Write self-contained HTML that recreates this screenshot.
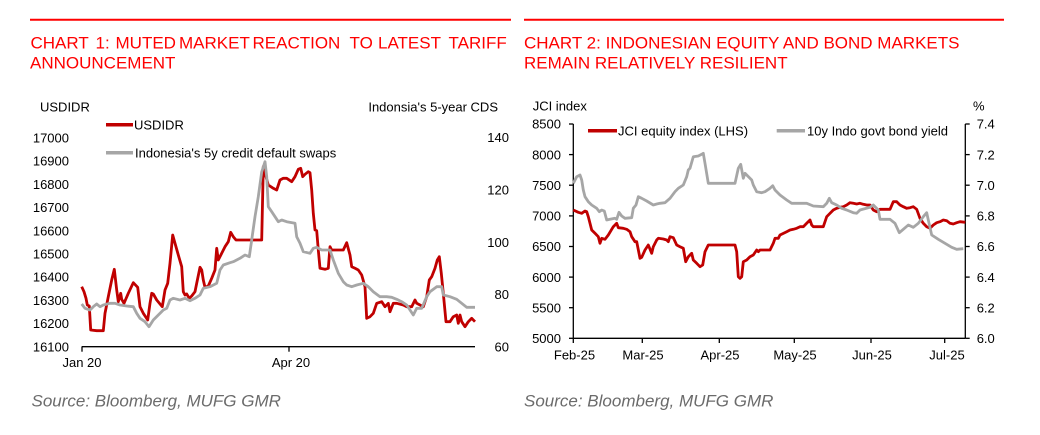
<!DOCTYPE html>
<html>
<head>
<meta charset="utf-8">
<style>
html,body{margin:0;padding:0;background:#fff;}
svg{display:block;}
text{font-family:"Liberation Sans",Arial,sans-serif;}
</style>
</head>
<body>
<svg width="1040" height="435" viewBox="0 0 1040 435" xmlns="http://www.w3.org/2000/svg">
<rect width="1040" height="435" fill="#fff"/>

<!-- ===== Chart 1 ===== -->
<line x1="30" y1="19.7" x2="511" y2="19.7" stroke="#ff0000" stroke-width="2"/>
<text y="48.3" font-size="17" fill="#ff0000"><tspan x="30.5">CHART</tspan><tspan x="95.5">1:</tspan><tspan x="115.5">MUTED</tspan><tspan x="179">MARKET</tspan><tspan x="252.5">REACTION</tspan><tspan x="349.5">TO</tspan><tspan x="378">LATEST</tspan><tspan x="448.5">TARIFF</tspan></text>
<text x="30" y="68.3" font-size="17" fill="#ff0000">ANNOUNCEMENT</text>

<text x="40" y="111.5" font-size="13" fill="#000">USDIDR</text>
<text x="498" y="111.5" font-size="13" fill="#000" text-anchor="end">Indonsia's 5-year CDS</text>

<g font-size="13" fill="#000" text-anchor="end">
<text x="69" y="142.5">17000</text>
<text x="69" y="165.7">16900</text>
<text x="69" y="188.9">16800</text>
<text x="69" y="212.1">16700</text>
<text x="69" y="235.3">16600</text>
<text x="69" y="258.5">16500</text>
<text x="69" y="281.7">16400</text>
<text x="69" y="304.9">16300</text>
<text x="69" y="328.1">16200</text>
<text x="69" y="351.3">16100</text>
</g>
<g font-size="13" fill="#000" text-anchor="end">
<text x="509" y="142">140</text>
<text x="509" y="194.5">120</text>
<text x="509" y="246.8">100</text>
<text x="509" y="299">80</text>
<text x="509" y="351.3">60</text>
</g>

<line x1="81.7" y1="346.7" x2="475" y2="346.7" stroke="#000" stroke-width="1.3"/>
<line x1="82" y1="346.7" x2="82" y2="351.7" stroke="#000" stroke-width="1.3"/>
<line x1="289" y1="346.7" x2="289" y2="351.7" stroke="#000" stroke-width="1.3"/>
<text x="82" y="367" font-size="13" fill="#000" text-anchor="middle">Jan 20</text>
<text x="291" y="367" font-size="13" fill="#000" text-anchor="middle">Apr 20</text>

<polyline fill="none" stroke="#c00000" stroke-width="2.8" stroke-linejoin="round" points="81.7,286.7 84,291.7 86,298.3 87.3,305 89.3,306 90.7,330 96.7,330.7 103.3,330.7 105,313.3 108.3,296.7 111.7,280 114.3,269.3 116.7,290 118.3,301.7 120.7,293.3 121.7,299.3 124,303.3 128.3,293.3 133.3,282.7 137.7,287.3 140,306.7 143.3,313.3 147.7,320 150,303.3 151.7,293.3 153.3,294 156.7,300 160,304 162.3,306.7 165,290 167.7,283.3 170,263.3 172.7,235 175,243.3 178.3,255 181.7,266.7 183.3,291.7 185,295 186.7,294 189.3,298.3 191.7,296 195,291.7 196.7,283.3 200,267.3 201.7,270 203.3,280 205,287.3 208.3,286 211.7,278.3 215,270 216.7,248.3 218.3,260 221.7,253.3 225,246.7 228.3,241.7 230.7,232.3 233.3,236.7 236,240 261.7,240 263.3,166.7 265,173.3 268.3,185 273.3,188.3 276.7,190 280,180 283.3,178.3 286.7,178.3 291.7,181.7 295,176.7 298.3,169.3 300.7,168.3 302.7,176.7 305,174.3 308.3,171.7 310,172.7 311.7,190 313.3,213.3 315,230 316.7,230.7 318.3,250 320,268.3 325,269.3 328.3,268.3 330,246.7 331.7,250 343.3,250 346.7,242.7 350,255 351.7,266.7 355,268.3 358.3,270 361.7,275 365,286.7 366.7,318.3 370,316.7 373.3,313.3 376.7,303.3 381.7,301.7 385,306.7 388.3,303.3 390,311.7 393.3,303.3 396.7,303.3 403.3,305 406.7,306.7 411.7,306.7 415,300 416.7,303.3 420,305 423.3,306.7 426.7,296.7 429.3,280 431.7,276.7 435,268.3 437.3,260 439.3,256.7 441.3,273.3 443.3,293.3 446,321.7 450,321.7 453.3,316.7 456.7,315 458.3,323.3 460,315 461.7,321.7 465,326.7 468.3,321.7 471.7,318.3 475,321.7"/>
<polyline fill="none" stroke="#a6a6a6" stroke-width="2.8" stroke-linejoin="round" points="81.7,304 85,308.3 90,310 93.3,306.7 96.7,304 100,306.7 103.3,305 110,303.3 115,303.3 120,305 126.7,306 133.3,306.7 136.7,313.3 140,318.3 145,321.7 149,326.7 153.3,320 158.3,315 163.3,310 166.7,308.3 170,300 173.3,298.3 180,300 185,298.3 190,300.7 195,298.3 200,295 203.3,288.3 210,286.7 216.7,283.3 220,270 223.3,265 230,262.7 233.3,261.7 240,258.3 245,255 249.3,256.7 251.7,240 255,216.7 258.3,196.7 261.7,172 265,161.7 266.7,176.7 268.3,206.7 271.7,211.7 275,216.7 278.3,221.7 281.7,220 286.7,221.7 295,223.3 296.7,236.7 300,243.3 303.3,251.7 310,253.3 313.3,248.3 316.7,247.3 321.7,250 330,250 333.3,260 338.3,273.3 343.3,281.7 346.7,285 351.7,286.7 356.7,285 363.3,283.3 368.3,286.7 373.3,291.7 380,296.7 386.7,296.7 391.7,297.3 396.7,299.3 401.7,301.7 406.7,305 413.3,315 416.7,308.3 421.7,308.3 426.7,296.7 430,291.7 436.7,286.7 441.7,286.7 443.3,295 450,296.7 456.7,299.3 461.7,303.3 466.7,307.3 475,307.3"/>

<!-- legend chart 1 -->
<line x1="106" y1="124.7" x2="133" y2="124.7" stroke="#c00000" stroke-width="3.5"/>
<text x="134" y="129.3" font-size="13" fill="#000">USDIDR</text>
<line x1="106" y1="152.7" x2="133" y2="152.7" stroke="#a6a6a6" stroke-width="3.5"/>
<text x="135" y="157.3" font-size="13" fill="#000">Indonesia's 5y credit default swaps</text>

<text x="31.5" y="406.7" font-size="17" font-style="italic" fill="#6b6b6b">Source: Bloomberg, MUFG GMR</text>

<!-- ===== Chart 2 ===== -->
<line x1="524" y1="19.7" x2="1004" y2="19.7" stroke="#ff0000" stroke-width="2"/>
<text x="524" y="48.3" font-size="17" fill="#ff0000">CHART 2: INDONESIAN EQUITY AND BOND MARKETS</text>
<text x="524" y="68.3" font-size="17" fill="#ff0000">REMAIN RELATIVELY RESILIENT</text>

<text x="532.7" y="110.5" font-size="13" fill="#000">JCI index</text>
<text x="973" y="110.5" font-size="13" fill="#000">%</text>

<!-- axes -->
<g stroke="#000" stroke-width="1.3">
<line x1="573.3" y1="124" x2="573.3" y2="338.3"/>
<line x1="965.3" y1="124" x2="965.3" y2="338.3"/>
<line x1="573.3" y1="338.3" x2="965.3" y2="338.3"/>
<line x1="569" y1="124" x2="573.3" y2="124"/>
<line x1="569" y1="154.6" x2="573.3" y2="154.6"/>
<line x1="569" y1="185.2" x2="573.3" y2="185.2"/>
<line x1="569" y1="215.9" x2="573.3" y2="215.9"/>
<line x1="569" y1="246.5" x2="573.3" y2="246.5"/>
<line x1="569" y1="277.1" x2="573.3" y2="277.1"/>
<line x1="569" y1="307.7" x2="573.3" y2="307.7"/>
<line x1="569" y1="338.3" x2="573.3" y2="338.3"/>
<line x1="965.3" y1="124" x2="969.7" y2="124"/>
<line x1="965.3" y1="154.6" x2="969.7" y2="154.6"/>
<line x1="965.3" y1="185.2" x2="969.7" y2="185.2"/>
<line x1="965.3" y1="215.9" x2="969.7" y2="215.9"/>
<line x1="965.3" y1="246.5" x2="969.7" y2="246.5"/>
<line x1="965.3" y1="277.1" x2="969.7" y2="277.1"/>
<line x1="965.3" y1="307.7" x2="969.7" y2="307.7"/>
<line x1="965.3" y1="338.3" x2="969.7" y2="338.3"/>
<line x1="573.3" y1="338.3" x2="573.3" y2="343"/>
<line x1="642.3" y1="338.3" x2="642.3" y2="343"/>
<line x1="719.3" y1="338.3" x2="719.3" y2="343"/>
<line x1="794.3" y1="338.3" x2="794.3" y2="343"/>
<line x1="871" y1="338.3" x2="871" y2="343"/>
<line x1="944.7" y1="338.3" x2="944.7" y2="343"/>
</g>
<g font-size="13" fill="#000" text-anchor="end">
<text x="561" y="128.7">8500</text>
<text x="561" y="159.3">8000</text>
<text x="561" y="189.9">7500</text>
<text x="561" y="220.6">7000</text>
<text x="561" y="251.2">6500</text>
<text x="561" y="281.8">6000</text>
<text x="561" y="312.4">5500</text>
<text x="561" y="343">5000</text>
</g>
<g font-size="13" fill="#000">
<text x="976.7" y="128.7">7.4</text>
<text x="976.7" y="159.3">7.2</text>
<text x="976.7" y="189.9">7.0</text>
<text x="976.7" y="220.6">6.8</text>
<text x="976.7" y="251.2">6.6</text>
<text x="976.7" y="281.8">6.4</text>
<text x="976.7" y="312.4">6.2</text>
<text x="976.7" y="343">6.0</text>
</g>
<g font-size="13" fill="#000" text-anchor="middle">
<text x="574.5" y="359.5">Feb-25</text>
<text x="643" y="359.5">Mar-25</text>
<text x="720" y="359.5">Apr-25</text>
<text x="795" y="359.5">May-25</text>
<text x="872" y="359.5">Jun-25</text>
<text x="947" y="359.5">Jul-25</text>
</g>

<polyline fill="none" stroke="#c00000" stroke-width="2.8" stroke-linejoin="round" points="573.3,210 578.3,212.3 581.7,213.3 585,211 586.7,211.7 588.3,216.7 590,223.3 591.7,230 595,233.3 598.3,236.7 600,243.3 601.7,238.3 605,239.3 608.3,235 613.3,226.7 616.7,223.3 618.3,227.7 623.3,228.3 626.7,229.3 630,231.7 631.7,236.7 635,241.7 636.7,241.7 640,258.3 641.7,257.3 645,250 648.3,245 651.7,253.3 653.3,246.7 656.7,240 658.3,238.3 663.3,239 666.7,240 668.3,241.7 670,236.7 673.3,237.7 676.7,245 680,246.7 683.3,248.3 685.7,261.7 688.3,256.7 691.7,253.3 693.3,260 696.7,263.3 700,266.7 702.7,265 705,251.7 708.3,245 735,245 736.7,251.7 738.3,276.7 740,278.3 741.7,276.7 743.3,261.7 746.7,260 750,256.7 753.3,255 756.7,250 758.3,251.7 760,250 770,250 773.3,243.3 775,238.3 778.3,238.3 780,235 786.7,231.7 790,230 793.3,229.3 796.7,228.3 800,226.7 803.3,226.7 806.7,223.3 810,220 811.7,225 813.3,226.7 823.3,226.7 826.7,216.7 830,213.3 833.3,210 836.7,208.3 840,207.3 843.3,206.7 846.7,205 850,202.7 853.3,203.3 856.7,204 860,203.3 863.3,204.3 866.7,205 870,205 873.3,210 876.7,211.7 880,209.3 890,209.3 893.3,201.7 896.7,201.7 900,205 903.3,206.7 906.7,208.3 910,207.7 913.3,206.7 916.7,209.3 920,218.3 923.3,223.3 926.7,226.7 930,228.3 933.3,225 936.7,222.7 940,221.7 943.3,220 946.7,220.7 950,223.3 953.3,224 956.7,222.7 960,221.7 965.3,222.3"/>
<polyline fill="none" stroke="#a6a6a6" stroke-width="2.8" stroke-linejoin="round" points="573.3,183.3 576.7,176.7 580,175 581.7,180 583.3,190 585,196.7 588.3,201.7 591.7,205 596.7,208.3 599.3,211.7 601.7,210 604.3,211 606.7,220 610,219.3 615,218.3 616.7,219.3 619,212.3 621.7,216 625,218.3 631.7,217.7 633.3,208.3 636,205 638.3,196.7 641.7,198.3 646.7,201 653.3,205 656.7,204 660,203.3 665,202.7 670,198.3 675,191.7 678.3,188.3 683.3,185 686.7,176.7 688.3,170 690,168.3 693.3,156.7 698.3,156 701.7,154.3 703.3,153.3 705,163.3 708.3,183.3 735,183.3 738.3,168.3 740.7,164.3 743.3,178.3 745,173.3 751.7,180 753.3,185 756.7,191.7 761.7,192.7 765,191.7 770,188.3 772.7,185.7 775,190 780,195 786.7,200 791.7,203.3 806.7,203.3 813.3,206 823.3,206.7 826.7,203.3 829.3,198.3 831.7,202.7 836.7,205 841.7,208.3 846.7,210 853.3,212.7 856.7,213.3 860,210 870,207.3 873.3,205 878.3,210 880,219.3 890,219.3 895,223.3 899.3,232.7 903.3,229.3 908.3,225 913.3,227.3 918.3,223.3 923.3,216.7 926.7,212.7 928.3,220 931.7,235 938.3,239.3 945,243.3 951.7,247.3 956.7,249.3 963.3,248.7"/>

<!-- legend chart 2 -->
<line x1="588" y1="130.7" x2="617" y2="130.7" stroke="#c00000" stroke-width="3.5"/>
<text x="618" y="135.3" font-size="13" fill="#000">JCI equity index (LHS)</text>
<line x1="776.7" y1="130.7" x2="805" y2="130.7" stroke="#a6a6a6" stroke-width="3.5"/>
<text x="807" y="135.3" font-size="13" fill="#000">10y Indo govt bond yield</text>

<text x="524" y="406.7" font-size="17" font-style="italic" fill="#6b6b6b">Source: Bloomberg, MUFG GMR</text>
</svg>
</body>
</html>
